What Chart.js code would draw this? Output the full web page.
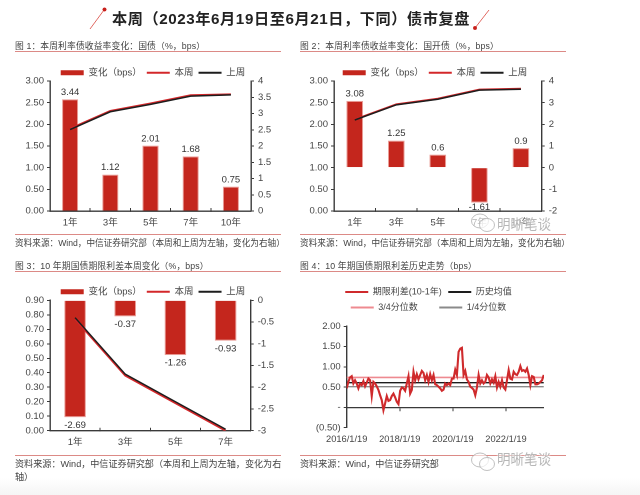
<!DOCTYPE html>
<html lang="zh">
<head>
<meta charset="utf-8">
<script src="https://cdn.jsdelivr.net/npm/chart.js@4"></script>
<style>
html,body{margin:0;padding:0;background:#fff;width:640px;height:495px;overflow:hidden}
#page{position:relative;width:640px;height:495px;filter:blur(0.35px);font-family:"Liberation Sans","Noto Sans CJK SC",sans-serif;color:#444}
canvas{position:absolute}
.t{position:absolute;white-space:nowrap;font-size:8.8px;line-height:12px;color:#444}
.s{font-size:8.65px}
.s3{font-size:9.1px}
.rule{position:absolute;height:1.2px;background:#dc8a86}
#main{position:absolute;left:112px;top:9px;font-size:15.2px;letter-spacing:.57px;line-height:20px;font-weight:700;color:#222;white-space:nowrap}
.wm{position:absolute;font-size:13.5px;line-height:16px;color:rgba(165,165,165,.8);white-space:nowrap;text-shadow:0 0 2px #fff,0 0 2px #fff}
#fade{position:absolute;left:0;right:0;top:478px;height:17px;background:linear-gradient(#fff,#f5f5f5)}
</style>
</head>
<body>
<div id="page">
<div id="fade"></div>
<svg style="position:absolute;left:0;top:0" width="640" height="40">
<line x1="90" y1="29" x2="104" y2="10" stroke="#d9433a" stroke-width="0.8"/><circle cx="104.5" cy="9.5" r="2" fill="#c8201c"/>
<line x1="475" y1="28" x2="489" y2="10" stroke="#d9433a" stroke-width="0.8"/><circle cx="475" cy="28" r="2" fill="#c8201c"/>
</svg>
<div id="main">本周（2023年6月19日至6月21日，下同）债市复盘</div>

<div class="t" style="left:15px;top:40px;letter-spacing:.1px">图 1：本周利率债收益率变化：国债（%，bps）</div>
<div class="rule" style="left:15px;top:51px;width:266px"></div>
<div class="t" style="left:300px;top:40px;letter-spacing:.1px">图 2：本周利率债收益率变化：国开债（%，bps）</div>
<div class="rule" style="left:300px;top:51px;width:266px"></div>
<div class="rule" style="left:15px;top:234px;width:266px"></div>
<div class="rule" style="left:300px;top:234px;width:266px"></div>
<div class="t s" style="left:15px;top:237px">资料来源：Wind，中信证券研究部（本周和上周为左轴，变化为右轴）</div>
<div class="t s" style="left:300px;top:237px">资料来源：Wind，中信证券研究部（本周和上周为左轴，变化为右轴）</div>

<div class="t" style="left:15px;top:260px;letter-spacing:.1px">图 3：10 年期国债期限利差本周变化（%，bps）</div>
<div class="rule" style="left:15px;top:271px;width:266px"></div>
<div class="t" style="left:300px;top:260px;letter-spacing:.1px">图 4：10 年期国债期限利差历史走势（bps）</div>
<div class="rule" style="left:300px;top:271px;width:266px"></div>
<div class="rule" style="left:15px;top:455px;width:266px"></div>
<div class="rule" style="left:300px;top:455px;width:266px"></div>
<div class="t s3" style="left:15px;top:458px">资料来源：Wind，中信证券研究部（本周和上周为左轴，变化为右</div>
<div class="t s3" style="left:15px;top:471px">轴）</div>
<div class="t s3" style="left:300px;top:458px">资料来源：Wind，中信证券研究部</div>

<canvas id="c1" style="left:0;top:55px"></canvas>
<canvas id="c2" style="left:300px;top:55px"></canvas>
<canvas id="c3" style="left:0;top:275px"></canvas>
<canvas id="c4" style="left:313px;top:275px"></canvas>

<svg style="position:absolute;left:470px;top:212px" width="28" height="24" fill="none" stroke="rgba(165,165,165,.7)" stroke-width="1"><ellipse cx="10" cy="9" rx="8.5" ry="7" fill="rgba(255,255,255,.6)"/><ellipse cx="17" cy="13" rx="7.5" ry="6.5" fill="rgba(255,255,255,.7)"/></svg>
<div class="wm" style="left:497px;top:217px">明晰笔谈</div>
<svg style="position:absolute;left:470px;top:451px" width="28" height="24" fill="none" stroke="rgba(165,165,165,.7)" stroke-width="1"><ellipse cx="10" cy="9" rx="8.5" ry="7" fill="rgba(255,255,255,.6)"/><ellipse cx="17" cy="13" rx="7.5" ry="6.5" fill="rgba(255,255,255,.7)"/></svg>
<div class="wm" style="left:497px;top:452px">明晰笔谈</div>
</div>

<script>
// ---- data ----
const tenors5 = ["1年","3年","5年","7年","10年"];
const tenors4 = ["1年","3年","5年","7年"];
const change1 = [3.44,1.12,2.01,1.68,0.75];
const now1    = [1.90,2.31,2.48,2.67,2.69];
const prev1   = [1.88,2.29,2.46,2.65,2.68];
const change2 = [3.08,1.25,0.6,-1.61,0.9];
const now2    = [2.11,2.46,2.59,2.80,2.82];
const prev2   = [2.10,2.45,2.58,2.79,2.81];
const change3 = [-2.69,-0.37,-1.26,-0.93];
const now3    = [0.77,0.38,0.19,0.00];
const prev3   = [0.78,0.39,0.20,0.01];
const spreadStart = 2016.05, spreadStep = 0.0629;
const spread = [0.47,0.63,0.74,0.77,0.59,0.67,0.59,0.47,0.59,0.55,0.65,0.52,0.61,0.71,0.67,0.28,0.63,0.59,0.52,0.43,
0.30,0.18,-0.07,0.10,0.28,0.16,0.18,0.28,0.34,0.25,0.14,0.08,0.41,0.49,0.47,0.41,0.59,0.77,0.34,0.43,
0.88,0.67,0.82,0.69,0.80,0.90,0.85,0.67,0.80,0.63,0.82,0.67,0.80,0.57,0.55,0.51,0.47,0.41,0.44,0.59,
0.55,0.59,0.55,0.71,0.71,0.93,0.80,1.37,1.45,1.47,0.80,0.90,0.69,0.63,0.51,0.48,0.44,0.30,0.49,0.80,
0.59,0.67,0.59,0.63,0.80,0.74,0.59,0.69,0.61,0.77,0.49,0.63,0.51,0.67,0.49,0.44,0.67,0.92,0.71,0.69,
0.88,0.82,0.80,0.88,1.02,0.90,0.92,0.88,0.96,0.80,0.55,0.77,0.75,0.57,0.57,0.59,0.63,0.67,0.80];
const q3 = 0.74, mean = 0.61, q1 = 0.51;
const spreadTicks = [2016.05,2018.05,2020.05,2022.05];
const spreadTickLabels = ["2016/1/19","2018/1/19","2020/1/19","2022/1/19"];
const spreadYLabels = {"2":"2.00","1.5":"1.50","1":"1.00","0.5":"0.50","0":"-","-0.5":"(0.50)"};

// ---- style ----
const FONT = '"Liberation Sans","Noto Sans CJK SC",sans-serif';
const INK = '#444', AXIS = '#3a3a3a';
const BAR = '#c4261d', BARB = '#ea9d97', RED = '#d3272a', BLK = '#1d1d1d';
Chart.defaults.font.family = FONT;
Chart.defaults.font.size = 9.5;
Chart.defaults.color = INK;
Chart.defaults.animation = false;
Chart.defaults.devicePixelRatio = 2;

const fixLegend = h => ({id:'fixLegend',beforeInit(c){const f=c.legend.fit;c.legend.fit=function(){f.call(this);this.height=h;};}});
const barValues = negOff => ({id:'barValues',afterDatasetsDraw(c){
  const m=c.getDatasetMeta(0),ds=c.data.datasets[0],x=c.ctx;
  x.save();x.font='9.5px '+FONT;x.fillStyle='#333';x.textAlign='center';x.textBaseline='middle';
  m.data.forEach((el,i)=>{const v=ds.data[i];x.fillText(String(v),el.x,el.y+(v<0?negOff:-7));});
  x.restore();
}});
const legendOpts = (padding,kinds,fs) => ({
  position:'top',
  labels:{usePointStyle:true,pointStyleWidth:23,boxHeight:5,padding,color:INK,font:{size:fs},
    generateLabels(c){
      const items=Chart.defaults.plugins.legend.labels.generateLabels(c).sort((a,b)=>a.datasetIndex-b.datasetIndex);
      items.forEach((it,i)=>{const k=kinds[i];it.pointStyle=k.s;it.fillStyle=k.c;it.strokeStyle=k.c;it.lineWidth=k.w;if(k.t)it.text=k.t;});
      return items;
    }}
});
const kinds3=[{s:'rect',c:BAR,w:0},{s:'line',c:RED,w:2},{s:'line',c:BLK,w:2}];

function combo(id,labels,change,now,prev,o){
  const cv=document.getElementById(id);
  new Chart(cv,{
    data:{labels,datasets:[
      {type:'bar',label:'变化（bps）',data:change,yAxisID:'yR',backgroundColor:BAR,borderColor:BARB,borderWidth:1,barPercentage:o.bp,categoryPercentage:1,order:2},
      {type:'line',label:'本周',data:now,yAxisID:'yL',borderColor:RED,borderWidth:2,pointRadius:0,tension:0,order:1},
      {type:'line',label:'上周',data:prev,yAxisID:'yL',borderColor:BLK,borderWidth:1.5,pointRadius:0,tension:0,order:0}
    ]},
    plugins:[fixLegend(o.legendH),barValues(o.negOff)],
    options:{responsive:false,maintainAspectRatio:false,
      layout:{padding:{top:o.top}},
      plugins:{legend:legendOpts(5,kinds3,9.5),tooltip:{enabled:false}},
      scales:{
        x:{offset:true,grid:{drawOnChartArea:false,offset:true,tickLength:-3,color:AXIS,tickWidth:1},
           border:{color:AXIS,width:1.4},ticks:{padding:9,color:INK,maxRotation:0,autoSkip:false,font:{size:9.5}},
           afterFit(s){s.height=o.xH;s.paddingLeft=0;s.paddingRight=0;}},
        yL:{position:'left',min:0,max:o.lMax,grid:{drawOnChartArea:false,tickLength:3,color:AXIS},
           border:{color:AXIS,width:1.4},ticks:{stepSize:o.lStep,padding:3,color:INK,font:{size:9.5},callback:v=>Number(v).toFixed(2)},
           afterFit(s){s.width=o.wL;}},
        yR:{position:'right',min:o.rMin,max:o.rMax,grid:{drawOnChartArea:false,tickLength:3,color:AXIS},
           border:{color:AXIS,width:1.4},ticks:{stepSize:o.rStep,padding:4,color:INK,font:{size:9.5},callback:v=>String(v)},
           afterFit(s){s.width=o.wR;}}
      }
    }
  });
}
function size(id,w,h){const c=document.getElementById(id);c.width=w;c.height=h;c.style.width=w+'px';c.style.height=h+'px';}
size('c1',306,175);size('c2',270,175);size('c3',306,175);size('c4',231,170);

combo('c1',tenors5,change1,now1,prev1,{top:8,legendH:18,xH:19,wL:50,wR:55,lMax:3,lStep:.5,rMin:0,rMax:4,rStep:.5,bp:.4,negOff:8});
combo('c2',tenors5,change2,now2,prev2,{top:8,legendH:18,xH:19,wL:34,wR:28.3,lMax:3,lStep:.5,rMin:-2,rMax:4,rStep:1,bp:.4,negOff:5});
combo('c3',tenors4,change3,now3,prev3,{top:7,legendH:18.3,xH:19.3,wL:50,wR:55.3,lMax:.9,lStep:.1,rMin:-3,rMax:0,rStep:.5,bp:.43,negOff:8});

const pts = spread.map((v,i)=>({x:spreadStart+i*spreadStep,y:v}));
const xEnd = spreadStart+(spread.length-1)*spreadStep;
const flat = v => [{x:spreadStart,y:v},{x:xEnd,y:v}];
const sameTicks = s => {s.ticks=spreadTicks.map(v=>({value:v}));};
const nb='\u00a0';
new Chart(document.getElementById('c4'),{
  type:'line',
  data:{datasets:[
    {label:'期限利差(10-1年)',data:pts,borderColor:'#cf2a2c',borderWidth:2.1,pointRadius:0,tension:0,order:0},
    {label:'历史均值',data:flat(mean),borderColor:BLK,borderWidth:1.4,pointRadius:0,order:1},
    {label:'3/4分位数',data:flat(q3),borderColor:'#ee8a90',borderWidth:1.6,pointRadius:0,order:2},
    {label:'1/4分位数',data:flat(q1),borderColor:'#8a8a8a',borderWidth:1.4,pointRadius:0,order:3}
  ]},
  plugins:[fixLegend(45.3)],
  options:{responsive:false,maintainAspectRatio:false,layout:{padding:{top:6}},
    plugins:{tooltip:{enabled:false},legend:legendOpts(6.5,[
      {s:'line',c:'#cf2a2c',w:2},
      {s:'line',c:BLK,w:2},
      {s:'line',c:'#ee8a90',w:2,t:'3/4分位数'+nb.repeat(6)},
      {s:'line',c:'#8a8a8a',w:2}
    ],9)},
    scales:{
      x:{type:'linear',min:spreadStart,max:xEnd+0.01,position:'bottom',grid:{display:false,drawTicks:false},border:{display:false},
         afterBuildTicks:sameTicks,
         ticks:{padding:6,color:INK,maxRotation:0,autoSkip:false,font:{size:9.3},callback:v=>spreadTickLabels[spreadTicks.indexOf(v)]},
         afterFit(s){s.height=17.3;s.paddingLeft=0;s.paddingRight=0;}},
      x0:{type:'linear',axis:'x',min:spreadStart,max:xEnd+0.01,position:{y:0},grid:{drawOnChartArea:false,tickLength:3,color:AXIS},
         border:{color:AXIS,width:1.3},afterBuildTicks:sameTicks,ticks:{display:false}},
      y:{min:-0.5,max:2,grid:{drawOnChartArea:false,tickLength:3,color:AXIS},border:{color:AXIS,width:1.4},
         ticks:{stepSize:.5,padding:3,color:INK,font:{size:9.5},callback:v=>spreadYLabels[String(v)]},
         afterFit(s){s.width=33.7;}}
    }
  }
});
</script>
</body>
</html>
